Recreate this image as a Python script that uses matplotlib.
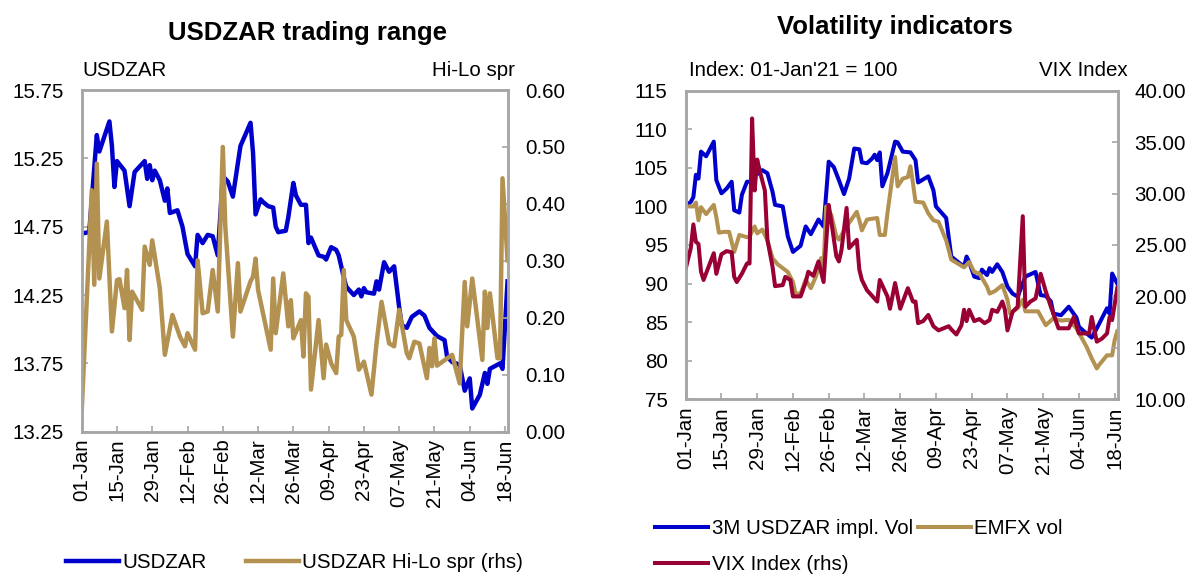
import numpy as np
import pandas as pd
import matplotlib
matplotlib.use("Agg")
import matplotlib.pyplot as plt
import matplotlib.dates as mdates
from matplotlib.ticker import FormatStrFormatter

plt.rcParams['font.family'] = ['Liberation Sans', 'DejaVu Sans']

start = pd.Timestamp('2021-01-01')

# ---- left chart: USDZAR and its daily hi-lo spread (days since 01-Jan)
zar_days = [0, 3, 6, 7, 11, 12, 13, 14, 17, 19, 21, 25, 26, 27, 28, 29, 31, 33, 34, 35,
            38, 40, 42, 45, 46, 48, 50, 52, 54, 56, 58, 60, 63, 67, 68, 69, 71, 72, 74, 76,
            77, 78, 81, 82, 84, 85, 87, 89, 90, 91, 94, 96, 97, 99, 101, 102, 104, 105, 108, 110,
            111, 112, 113, 116, 117, 118, 120, 122, 124, 126, 127, 129, 131, 134, 136, 138, 140, 141, 144, 145,
            147, 150, 152, 154, 155, 158, 160, 161, 162, 166, 167, 169]
zar = [14.70, 14.71, 15.42, 15.30, 15.52, 15.34, 15.04, 15.23, 15.16, 14.90, 15.15, 15.23, 15.10, 15.20, 15.09, 15.16, 15.09, 14.94, 15.03, 14.85,
       14.87, 14.75, 14.55, 14.46, 14.69, 14.63, 14.69, 14.68, 14.54, 15.12, 15.08, 14.97, 15.34, 15.51, 15.29, 14.84, 14.95, 14.93, 14.90, 14.89,
       14.75, 14.71, 14.72, 14.82, 15.07, 14.98, 14.91, 14.91, 14.63, 14.67, 14.54, 14.53, 14.51, 14.60, 14.58, 14.54, 14.38, 14.31, 14.25, 14.29,
       14.24, 14.30, 14.27, 14.26, 14.35, 14.29, 14.49, 14.42, 14.46, 14.16, 14.03, 14.01, 14.09, 14.13, 14.10, 14.01, 13.97, 13.95, 13.92, 13.80,
       13.76, 13.74, 13.55, 13.64, 13.42, 13.52, 13.68, 13.60, 13.71, 13.75, 13.71, 14.35]

spr_days = [0, 4, 5, 6, 7, 10, 12, 14, 15, 17, 18, 19, 20, 24, 25, 27, 28, 31, 33, 36,
            39, 41, 42, 45, 46, 48, 50, 52, 54, 56, 57, 60, 62, 63, 67, 68, 69, 70, 75, 76,
            77, 80, 82, 83, 84, 87, 88, 89, 90, 91, 94, 96, 97, 99, 101, 102, 103, 104, 105, 108,
            110, 112, 115, 117, 119, 122, 124, 126, 129, 130, 132, 134, 137, 138, 139, 140, 141, 147, 150, 152,
            153, 155, 159, 160, 161, 162, 165, 166, 167, 169]
spr = [0.036, 0.424, 0.258, 0.471, 0.269, 0.369, 0.176, 0.266, 0.268, 0.217, 0.284, 0.161, 0.246, 0.214, 0.325, 0.293, 0.336, 0.252, 0.135, 0.205,
       0.167, 0.150, 0.173, 0.144, 0.301, 0.208, 0.211, 0.284, 0.211, 0.500, 0.360, 0.167, 0.296, 0.211, 0.264, 0.272, 0.304, 0.249, 0.144, 0.269,
       0.173, 0.278, 0.185, 0.231, 0.164, 0.196, 0.132, 0.243, 0.237, 0.074, 0.196, 0.094, 0.153, 0.120, 0.103, 0.167, 0.170, 0.284, 0.196, 0.167,
       0.109, 0.123, 0.065, 0.155, 0.228, 0.155, 0.150, 0.214, 0.138, 0.129, 0.158, 0.155, 0.094, 0.147, 0.115, 0.164, 0.116, 0.135, 0.085, 0.263,
       0.185, 0.269, 0.126, 0.246, 0.182, 0.243, 0.129, 0.129, 0.445, 0.301]

# ---- right chart: volatility indicators
iv_days = [0, 2, 3, 4, 5, 6, 8, 11, 12, 14, 16, 18, 19, 21, 22, 24, 26, 27, 28, 30,
           32, 34, 35, 38, 40, 42, 45, 47, 49, 52, 54, 56, 58, 60, 62, 64, 66, 68, 69, 71,
           73, 74, 75, 76, 77, 79, 82, 83, 85, 88, 90, 91, 93, 95, 97, 98, 102, 104, 107, 109,
           110, 111, 113, 115, 116, 118, 119, 120, 122, 124, 126, 128, 130, 133, 137, 138, 139, 141, 143, 144,
           147, 150, 153, 154, 156, 159, 161, 163, 165, 166, 167, 169]
impl_vol = [100.0, 100.6, 101.2, 104.1, 103.6, 107.1, 106.5, 108.4, 103.4, 101.7, 102.3, 103.2, 99.5, 99.2, 101.5, 103.2, 103.2, 104.1, 104.2, 104.7,
            104.3, 101.9, 100.2, 100.0, 96.1, 94.1, 94.9, 97.4, 96.4, 98.3, 97.4, 105.8, 105.1, 103.4, 101.6, 103.6, 107.5, 107.4, 105.7, 105.6,
            106.2, 106.7, 106.0, 107.0, 102.6, 104.3, 108.4, 108.3, 107.1, 107.0, 106.0, 103.1, 103.5, 103.9, 102.1, 100.0, 98.5, 93.5, 92.7, 92.2,
            93.5, 92.8, 90.9, 90.7, 91.8, 91.1, 92.0, 91.5, 92.5, 91.5, 89.6, 88.7, 88.3, 90.9, 91.5, 90.0, 88.5, 88.4, 87.7, 86.1,
            85.9, 87.0, 85.6, 84.4, 83.8, 83.0, 84.2, 85.5, 86.8, 86.1, 91.3, 90.0]

em_days = [0, 3, 4, 5, 6, 8, 11, 12, 13, 15, 17, 19, 21, 24, 25, 27, 28, 30, 32, 34,
           36, 40, 42, 43, 45, 47, 49, 51, 53, 54, 55, 57, 59, 60, 63, 67, 68, 69, 71, 75,
           76, 78, 79, 82, 83, 85, 87, 88, 89, 90, 93, 95, 97, 99, 100, 102, 104, 107, 109, 111,
           113, 115, 118, 119, 121, 124, 126, 127, 130, 132, 133, 138, 141, 144, 147, 150, 153, 157, 159, 161,
           162, 165, 167, 168, 169]
emfx = [100.0, 100.0, 100.5, 98.2, 99.9, 99.0, 100.2, 98.6, 96.6, 96.7, 96.7, 94.1, 96.3, 96.0, 96.1, 97.4, 96.5, 97.0, 95.6, 93.3,
        92.5, 91.5, 90.2, 88.7, 88.7, 90.5, 89.4, 90.9, 93.3, 92.2, 100.0, 98.9, 96.1, 95.7, 97.4, 99.3, 98.2, 96.9, 98.3, 98.5,
        96.3, 96.3, 99.1, 106.4, 102.6, 103.6, 103.8, 105.2, 103.0, 100.6, 100.5, 99.1, 98.2, 98.0, 97.2, 95.6, 93.1, 92.5, 92.1, 92.8,
        91.5, 91.3, 89.6, 88.7, 89.0, 89.8, 87.9, 86.1, 86.8, 87.9, 86.4, 86.4, 84.6, 85.5, 85.2, 85.3, 84.2, 81.8, 80.3, 79.0,
        79.5, 80.7, 80.7, 82.7, 83.8]

vix_days = [0, 2, 3, 4, 5, 6, 7, 9, 11, 12, 14, 16, 18, 19, 20, 22, 24, 25, 26, 27,
            28, 29, 31, 32, 34, 35, 38, 39, 41, 42, 44, 45, 47, 48, 50, 52, 54, 56, 57, 59,
            60, 61, 63, 64, 67, 68, 69, 71, 75, 76, 79, 80, 82, 84, 87, 89, 90, 91, 93, 95,
            97, 99, 101, 103, 104, 106, 108, 109, 110, 111, 113, 115, 117, 119, 120, 122, 124, 125, 126, 128,
            130, 132, 133, 135, 137, 139, 141, 143, 146, 150, 152, 153, 154, 158, 159, 161, 163, 165, 166, 167,
            169]
vix = [22.7, 24.7, 27.0, 25.3, 25.1, 22.4, 21.6, 22.9, 24.2, 22.2, 24.1, 24.4, 24.3, 21.9, 21.4, 22.2, 23.2, 23.2, 37.3, 30.3,
       33.3, 32.2, 30.3, 25.5, 22.9, 21.0, 21.1, 21.9, 21.6, 20.0, 20.0, 20.0, 21.4, 22.4, 22.0, 23.4, 21.4, 28.9, 27.3, 23.9,
       23.4, 24.5, 28.6, 24.7, 25.5, 22.6, 21.6, 20.6, 19.5, 21.6, 20.0, 18.8, 21.3, 18.8, 20.8, 19.5, 19.5, 17.4, 17.6, 18.2,
       17.1, 16.7, 16.9, 17.1, 16.8, 16.3, 17.2, 18.7, 17.6, 18.7, 17.6, 17.8, 17.4, 17.7, 18.7, 18.5, 19.5, 18.7, 16.7, 18.5,
       19.0, 27.8, 19.0, 19.5, 19.8, 22.2, 20.5, 19.0, 16.9, 16.9, 18.0, 17.2, 16.4, 16.4, 18.0, 15.6, 15.9, 16.4, 18.0, 17.7,
       20.8]

BLUE = '#0000CC'
GOLD = '#B39150'
RED = '#990033'
GREY = '#A6A6A6'
FS = 14.8


def to_dates(days):
    return start + pd.to_timedelta(days, unit='D')


def style(ax, twin):
    for a in (ax, twin):
        for s in a.spines.values():
            s.set_color(GREY)
            s.set_linewidth(1.8)
    ax.tick_params(axis='y', direction='in', length=4, width=1.2, color=GREY, labelsize=FS, pad=13)
    twin.tick_params(axis='y', direction='in', length=4, width=1.2, color=GREY, labelsize=FS, pad=12)
    ax.tick_params(axis='x', direction='in', length=4, width=1.2, color=GREY, labelsize=FS, pad=5,
                   labelrotation=90)
    ax.set_xlim(start, start + pd.Timedelta(days=169.3))
    ax.set_xticks(pd.date_range('2021-01-01', '2021-06-18', freq='14D'))
    ax.xaxis.set_major_formatter(mdates.DateFormatter('%d-%b'))


fig = plt.figure(figsize=(11.89, 5.74), dpi=100)

# left chart
ax1 = fig.add_axes([0.0687, 0.2479, 0.3588, 0.5953])
ax1b = ax1.twinx()
l1, = ax1.plot(to_dates(zar_days), zar, color=BLUE, lw=3.2)
l2, = ax1b.plot(to_dates(spr_days), spr, color=GOLD, lw=3.2)
ax1.set_ylim(13.25, 15.75)
ax1.set_yticks(np.arange(13.25, 15.76, 0.5))
ax1.yaxis.set_major_formatter(FormatStrFormatter('%.2f'))
ax1b.set_ylim(0, 0.6)
ax1b.set_yticks(np.arange(0, 0.61, 0.1))
ax1b.yaxis.set_major_formatter(FormatStrFormatter('%.2f'))
style(ax1, ax1b)

fig.text(307 / 1189, 1 - 33 / 574, 'USDZAR trading range', ha='center', va='center',
         fontsize=18.5, fontweight='bold')
fig.text(82 / 1189, 1 - 71 / 574, 'USDZAR', ha='left', va='center', fontsize=FS)
fig.text(515 / 1189, 1 - 71 / 574, 'Hi-Lo spr', ha='right', va='center', fontsize=FS)

fig.legend([l1, l2], ['USDZAR', 'USDZAR Hi-Lo spr (rhs)'], loc='center left',
           bbox_to_anchor=(66 / 1189, 1 - 563 / 574), ncol=2, frameon=False, fontsize=FS,
           handlelength=2.6, handletextpad=0.15, columnspacing=1.9, borderpad=0, borderaxespad=0)

# right chart
ax2 = fig.add_axes([0.5767, 0.3044, 0.3636, 0.5376])
ax2b = ax2.twinx()
m1, = ax2.plot(to_dates(iv_days), impl_vol, color=BLUE, lw=2.9)
m2, = ax2.plot(to_dates(em_days), emfx, color=GOLD, lw=2.9)
m3, = ax2b.plot(to_dates(vix_days), vix, color=RED, lw=2.9)
ax2.set_ylim(75, 115)
ax2.set_yticks(np.arange(75, 116, 5))
ax2b.set_ylim(10, 40)
ax2b.set_yticks(np.arange(10, 41, 5))
ax2b.yaxis.set_major_formatter(FormatStrFormatter('%.2f'))
style(ax2, ax2b)

fig.text(895 / 1189, 1 - 27 / 574, 'Volatility indicators', ha='center', va='center',
         fontsize=18.5, fontweight='bold')
fig.text(689 / 1189, 1 - 71 / 574, "Index: 01-Jan'21 = 100", ha='left', va='center', fontsize=FS)
fig.text(1128 / 1189, 1 - 71 / 574, 'VIX Index', ha='right', va='center', fontsize=FS)

fig.legend([m1, m3, m2], ['3M USDZAR impl. Vol', 'VIX Index (rhs)', 'EMFX vol'], loc='center left',
           bbox_to_anchor=(655 / 1189, 1 - 546.5 / 574), ncol=2, frameon=False, fontsize=FS,
           handlelength=2.6, handletextpad=0.15, columnspacing=0.25, labelspacing=0.85,
           borderpad=0, borderaxespad=0)

fig.savefig('out.png', dpi=100)
